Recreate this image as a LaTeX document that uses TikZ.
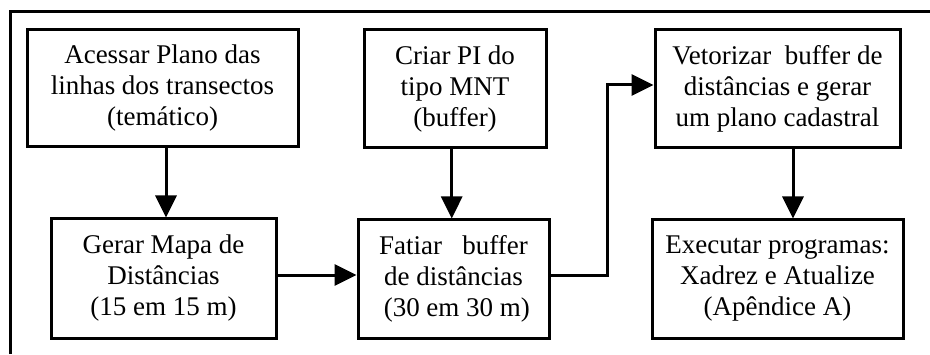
\documentclass[tikz,border=0pt]{standalone}
\usepackage{fontspec}
\setmainfont{Liberation Serif}
\usetikzlibrary{arrows.meta}
\begin{document}
\begin{tikzpicture}[x=1pt,y=1pt,
  box/.style={draw,line width=3pt,align=center,inner sep=0pt,
    font=\fontsize{27}{31}\selectfont},
  conn/.style={line width=3pt,-{Triangle[length=22pt,width=21pt]}}]
\useasboundingbox (0,0) rectangle (930,354);
\fill[white] (0,0) rectangle (930,354);
\draw[line width=3pt] (10,0) -- (10,342) -- (930,342);
\node[box,minimum width=271pt,minimum height=117pt] (b1) at (162.5,265.5)
  {Acessar Plano das\\linhas dos transectos\\(temático)};
\node[box,minimum width=225pt,minimum height=119pt] (b2) at (163.5,75.5)
  {Gerar Mapa de\\Distâncias\\(15 em 15 m)};
\node[box,minimum width=182pt,minimum height=118pt] (b3) at (455,265)
  {Criar PI do\\tipo MNT\\(buffer)};
\node[box,minimum width=191pt,minimum height=118pt] (b4) at (453.5,75)
  {Fatiar\ \ \ buffer\\de distâncias\\\ (30 em 30 m)};
\node[box,minimum width=245pt,minimum height=118pt] (b5) at (777.5,265)
  {Vetorizar\ \ buffer de\\distâncias e gerar\\um plano cadastral};
\node[box,minimum width=251pt,minimum height=118pt] (b6) at (777.5,75)
  {Executar programas:\\Xadrez e Atualize\\(Apêndice A)};
\draw[conn] ([xshift=3.5pt]b1.south) -- ([xshift=2.5pt]b2.north);
\draw[conn] ([xshift=-3.3pt]b3.south) -- ([xshift=-1.8pt]b4.north);
\draw[conn] ([yshift=3.5pt]b2.east) -- ([yshift=4pt]b4.west);
\coordinate (k) at (607,0);
\draw[conn] ([yshift=4pt]b4.east) -| ([yshift=4pt]k |- b5.west) -- ([yshift=4pt]b5.west);
\draw[conn] ([xshift=15.5pt]b5.south) -- ([xshift=15.5pt]b6.north);
\end{tikzpicture}
\end{document}
